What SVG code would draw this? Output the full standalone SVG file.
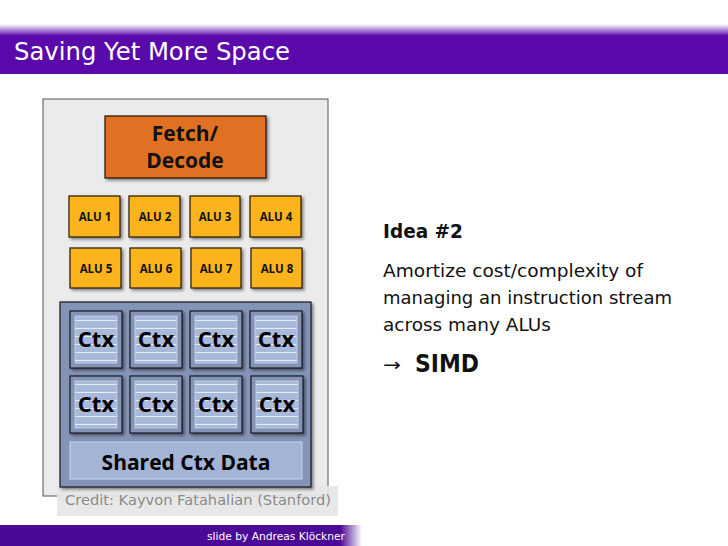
<svg xmlns="http://www.w3.org/2000/svg" width="728" height="546" viewBox="0 0 728 546">
<defs>
<linearGradient id="topfade" x1="0" y1="0" x2="0" y2="1">
<stop offset="0" stop-color="#5a0aaa" stop-opacity="0"/>
<stop offset="1" stop-color="#5a0aaa"/>
</linearGradient>
<linearGradient id="botfade" x1="0" y1="0" x2="1" y2="0">
<stop offset="0" stop-color="#4a0a96"/>
<stop offset="0.94" stop-color="#4a0a96"/>
<stop offset="1" stop-color="#4a0a96" stop-opacity="0"/>
</linearGradient>
<filter id="sh" x="-20%" y="-20%" width="150%" height="150%">
<feDropShadow dx="2" dy="2" stdDeviation="1.5" flood-color="#000" flood-opacity="0.45"/>
</filter>
<pattern id="stripes" x="0" y="0" width="10" height="8" patternUnits="userSpaceOnUse">
<rect width="10" height="8" fill="#a9b9da"/>
<line x1="0" y1="0.5" x2="10" y2="0.5" stroke="#e4ecfa" stroke-width="1"/>
</pattern>
</defs>
<style>
.alu rect{fill:#fbb41b;stroke:#2a1a00;stroke-width:1.2;filter:url(#sh)}
.alu text{font-family:"Open Sans","Liberation Sans",sans-serif;font-weight:bold;font-size:11.5px;fill:#111;text-anchor:middle}
.ctx .o{fill:#8494b6;stroke:#1a1a22;stroke-width:1.2;filter:url(#sh)}
.ctx .i{fill:url(#stripes);stroke:#c6d4ee;stroke-width:0.8}
.ctx text{font-family:"Open Sans","Liberation Sans",sans-serif;font-weight:bold;font-size:22px;fill:#000;text-anchor:middle}
.body{font-family:"DejaVu Sans","Liberation Sans",sans-serif;fill:#111}
</style>
<rect width="728" height="546" fill="#fff"/>
<g id="title">
<rect x="0" y="24" width="728" height="12" fill="url(#topfade)"/>
<rect x="0" y="35" width="728" height="39" fill="#5a0aaa"/>
<text x="14" y="60" font-family="DejaVu Sans, sans-serif" font-size="24" fill="#fff" textLength="276" lengthAdjust="spacingAndGlyphs">Saving Yet More Space</text>
</g>
<g id="core">
<rect x="43" y="99" width="285" height="397" fill="#ebebeb" stroke="#555" stroke-width="1"/>
</g>
<g id="credit">
<rect x="57" y="486" width="281" height="30" fill="#e6e6e6" fill-opacity="0.92"/>
<text x="65" y="505" font-family="DejaVu Sans, sans-serif" font-size="14" fill="#8a8a8a" textLength="266" lengthAdjust="spacingAndGlyphs">Credit:  Kayvon Fatahalian (Stanford)</text>
</g>
<g id="fetch">
<rect x="105" y="116" width="161" height="62" fill="#e07022" stroke="#2a1000" stroke-width="1.2" filter="url(#sh)"/>
<text x="185" y="141" font-family="Open Sans, Liberation Sans, sans-serif" font-weight="bold" font-size="21" fill="#111" text-anchor="middle">Fetch/</text>
<text x="185" y="168" font-family="Open Sans, Liberation Sans, sans-serif" font-weight="bold" font-size="21" fill="#111" text-anchor="middle">Decode</text>
</g>
<g id="alu1" class="alu"><rect x="69" y="196" width="51" height="41"/><text x="95" y="221">ALU 1</text></g>
<g id="alu2" class="alu"><rect x="129" y="196" width="51" height="41"/><text x="155" y="221">ALU 2</text></g>
<g id="alu3" class="alu"><rect x="190" y="196" width="50" height="41"/><text x="215" y="221">ALU 3</text></g>
<g id="alu4" class="alu"><rect x="250" y="196" width="51" height="41"/><text x="276" y="221">ALU 4</text></g>
<g id="alu5" class="alu"><rect x="70" y="248" width="51" height="40"/><text x="96" y="273">ALU 5</text></g>
<g id="alu6" class="alu"><rect x="130" y="248" width="51" height="40"/><text x="156" y="273">ALU 6</text></g>
<g id="alu7" class="alu"><rect x="191" y="248" width="50" height="40"/><text x="216" y="273">ALU 7</text></g>
<g id="alu8" class="alu"><rect x="251" y="248" width="51" height="40"/><text x="277" y="273">ALU 8</text></g>
<g id="ctxregion">
<rect x="60" y="302" width="251" height="185" fill="#8494b6" stroke="#1a1a22" stroke-width="1.2" filter="url(#sh)"/>
</g>
<g id="ctx1" class="ctx"><rect class="o" x="70" y="311" width="52" height="57"/><rect class="i" x="75" y="316" width="42" height="47"/><text x="96" y="347">Ctx</text></g>
<g id="ctx2" class="ctx"><rect class="o" x="130" y="311" width="52" height="57"/><rect class="i" x="135" y="316" width="42" height="47"/><text x="156" y="347">Ctx</text></g>
<g id="ctx3" class="ctx"><rect class="o" x="190" y="311" width="52" height="57"/><rect class="i" x="195" y="316" width="42" height="47"/><text x="216" y="347">Ctx</text></g>
<g id="ctx4" class="ctx"><rect class="o" x="250" y="311" width="52" height="57"/><rect class="i" x="255" y="316" width="42" height="47"/><text x="276" y="347">Ctx</text></g>
<g id="ctx5" class="ctx"><rect class="o" x="70" y="376" width="52" height="57"/><rect class="i" x="75" y="381" width="42" height="47"/><text x="96" y="412">Ctx</text></g>
<g id="ctx6" class="ctx"><rect class="o" x="130" y="376" width="52" height="57"/><rect class="i" x="135" y="381" width="42" height="47"/><text x="156" y="412">Ctx</text></g>
<g id="ctx7" class="ctx"><rect class="o" x="190" y="376" width="52" height="57"/><rect class="i" x="195" y="381" width="42" height="47"/><text x="216" y="412">Ctx</text></g>
<g id="ctx8" class="ctx"><rect class="o" x="251" y="376" width="52" height="57"/><rect class="i" x="256" y="381" width="42" height="47"/><text x="277" y="412">Ctx</text></g>
<g id="shared">
<rect x="70" y="442" width="232" height="37" fill="#a3b4d6" stroke="#c6d4ee" stroke-width="1"/>
<text x="186" y="470" font-family="Open Sans, Liberation Sans, sans-serif" font-weight="bold" font-size="21" fill="#000" text-anchor="middle">Shared Ctx Data</text>
</g>
<g id="idea">
<text x="383" y="238" class="body" font-weight="bold" font-size="19" textLength="80" lengthAdjust="spacingAndGlyphs">Idea #2</text>
<text x="383" y="277" class="body" font-size="18" textLength="260" lengthAdjust="spacingAndGlyphs">Amortize cost/complexity of</text>
<text x="383" y="304" class="body" font-size="18" textLength="289" lengthAdjust="spacingAndGlyphs">managing an instruction stream</text>
<text x="383" y="331" class="body" font-size="18" textLength="168" lengthAdjust="spacingAndGlyphs">across many ALUs</text>
<text x="383" y="371" class="body" font-size="18" textLength="18" lengthAdjust="spacingAndGlyphs">→</text>
<text x="415" y="372" class="body" font-weight="bold" font-size="24" textLength="64" lengthAdjust="spacingAndGlyphs">SIMD</text>
</g>
<g id="footer">
<rect x="0" y="525" width="362" height="21" fill="url(#botfade)"/>
<text x="207" y="540" font-family="DejaVu Sans, sans-serif" font-size="10.5" fill="#fff" textLength="138" lengthAdjust="spacingAndGlyphs">slide by  Andreas Klöckner</text>
</g>
</svg>
